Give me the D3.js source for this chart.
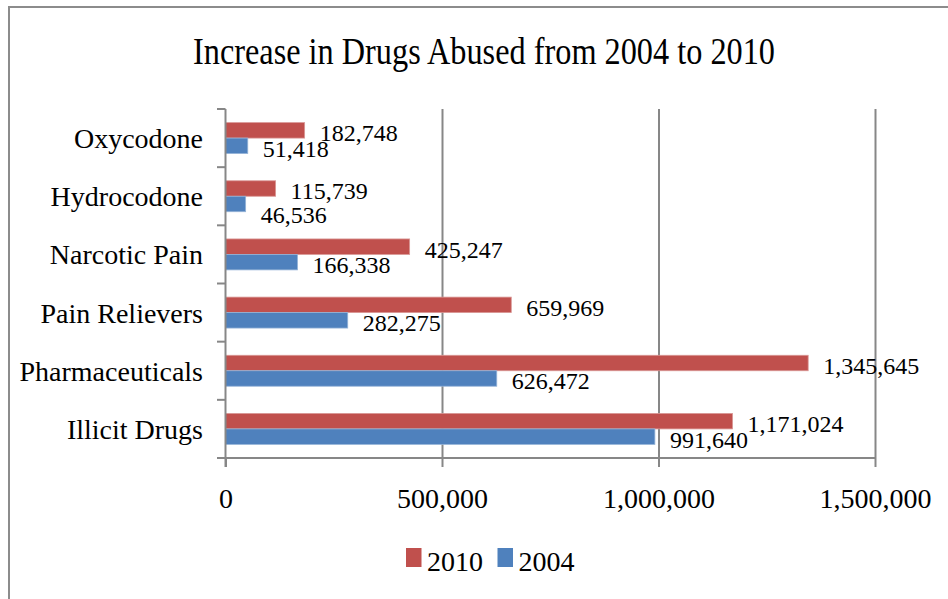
<!DOCTYPE html>
<html>
<head>
<meta charset="utf-8">
<script src="https://cdn.jsdelivr.net/npm/d3@7"></script>
<style>
  html, body { margin: 0; padding: 0; background: #fff; }
  svg { display: block; }
  text { font-family: "Liberation Serif", "Times New Roman", serif; fill: #000; }
</style>
</head>
<body>
<svg id="chart" width="948" height="599"></svg>
<script>
const title = "Increase in Drugs Abused from 2004 to 2010";
const categories = ["Oxycodone", "Hydrocodone", "Narcotic Pain", "Pain Relievers", "Pharmaceuticals", "Illicit Drugs"];
const seriesNames = ["2010", "2004"];
const values2010 = [182748, 115739, 425247, 659969, 1345645, 1171024];
const values2004 = [51418, 46536, 166338, 282275, 626472, 991640];
const xTicks = [0, 500000, 1000000, 1500000];
const colors = ["#C0504D", "#4F81BD"];
const strokes = ["#D99795", "#95B3D7"];

(function () {
const svg = d3.select("#chart");
const W = 948, H = 599;
const pLeft = 225.5, pRight = 875, pTop = 109, pBottom = 458;
const gridColor = "#878787";

// frame
svg.append("rect").attr("x", 9).attr("y", 7).attr("width", W + 10).attr("height", H + 10)
  .attr("fill", "none").attr("stroke", "#8c8c8c").attr("stroke-width", 2);

// title
svg.append("text").attr("x", 484).attr("y", 64).attr("text-anchor", "middle")
  .attr("font-size", 38).attr("textLength", 582).attr("lengthAdjust", "spacingAndGlyphs")
  .text(title);

const x = d3.scaleLinear().domain([0, 1500000]).range([pLeft, pRight]);
const y0 = d3.scaleBand().domain(categories).range([pTop, pBottom]).padding(0);
const y1 = d3.scaleBand().domain(seriesNames).range([0, y0.bandwidth()]).paddingInner(0).paddingOuter(0.88);

// gridlines
const grid = svg.append("g").attr("transform", `translate(0,${pBottom})`)
  .call(d3.axisBottom(x).tickValues(xTicks.slice(1)).tickSize(-(pBottom - pTop)).tickFormat(""));
grid.select(".domain").remove();
grid.selectAll("line").attr("stroke", gridColor).attr("stroke-width", 2);

// bars
const data = categories.map((c, i) => ({ cat: c, vals: [values2010[i], values2004[i]] }));
const groups = svg.append("g").selectAll("g").data(data).join("g")
  .attr("transform", d => `translate(0,${y0(d.cat)})`);
groups.selectAll("rect").data(d => d.vals.map((v, j) => ({ v, j, s: seriesNames[j] }))).join("rect")
  .attr("x", x(0))
  .attr("y", d => y1(d.s))
  .attr("width", d => x(d.v) - x(0))
  .attr("height", y1.bandwidth())
  .attr("fill", d => colors[d.j])
  .attr("stroke", d => strokes[d.j])
  .attr("stroke-width", 0.8);

// data labels
const fmt = d3.format(",");
groups.each(function () {
  const g = d3.select(this);
  const labels = g.selectAll("text").data(d => d.vals.map((v, j) => ({ v, j, s: seriesNames[j] }))).join("text")
    .attr("x", d => x(d.v) + 15)
    .attr("y", d => y1(d.s) + y1.bandwidth() / 2 + 11)
    .attr("font-size", 24)
    .text(d => fmt(d.v));
  // avoid strong overlap between the two labels of a category: push the lower one down
  const nodes = labels.nodes();
  const a = nodes[0].getBBox(), b = nodes[1].getBBox();
  const hOverlap = Math.min(a.x + a.width, b.x + b.width) - Math.max(a.x, b.x);
  if (hOverlap > 20) {
    d3.select(nodes[1]).attr("y", +d3.select(nodes[1]).attr("y") + 8);
    d3.select(nodes[0]).attr("y", +d3.select(nodes[0]).attr("y") - 1);
  }
});

// x axis ticks and labels
const xa = svg.append("g").attr("transform", `translate(0,${pBottom})`)
  .call(d3.axisBottom(x).tickValues(xTicks).tickSize(9).tickFormat(d3.format(",")));
xa.select(".domain").remove();
xa.selectAll("line").attr("stroke", gridColor).attr("stroke-width", 2);
xa.selectAll("text").attr("y", 50).attr("dy", 0).attr("font-size", 28)
  .attr("font-family", "'Liberation Serif', 'Times New Roman', serif").attr("fill", "#000");

// x axis line
svg.append("line").attr("x1", 217).attr("x2", pRight).attr("y1", pBottom).attr("y2", pBottom)
  .attr("stroke", gridColor).attr("stroke-width", 2);
// y axis line
svg.append("line").attr("x1", x(0)).attr("x2", x(0)).attr("y1", pTop).attr("y2", pBottom + 9)
  .attr("stroke", gridColor).attr("stroke-width", 2);
// y ticks at band boundaries
const bounds = categories.map(c => y0(c)).concat([pBottom]);
svg.append("g").selectAll("line").data(bounds).join("line")
  .attr("x1", 217).attr("x2", x(0)).attr("y1", d => d).attr("y2", d => d)
  .attr("stroke", gridColor).attr("stroke-width", 2);

// category labels
svg.append("g").selectAll("text").data(categories).join("text")
  .attr("x", 203).attr("y", d => y0(d) + y0.bandwidth() / 2 + 10)
  .attr("text-anchor", "end").attr("font-size", 28)
  .text(d => d);

// legend
const legendX = [406, 497.5];
const lg = svg.append("g").selectAll("g").data(seriesNames).join("g")
  .attr("transform", (d, i) => `translate(${legendX[i]},548)`);
lg.append("rect").attr("width", 15.5).attr("height", 19).attr("fill", (d, i) => colors[i]);
lg.append("text").attr("x", 21).attr("y", 22.5).attr("font-size", 28).text(d => d);
})();
</script>
</body>
</html>
